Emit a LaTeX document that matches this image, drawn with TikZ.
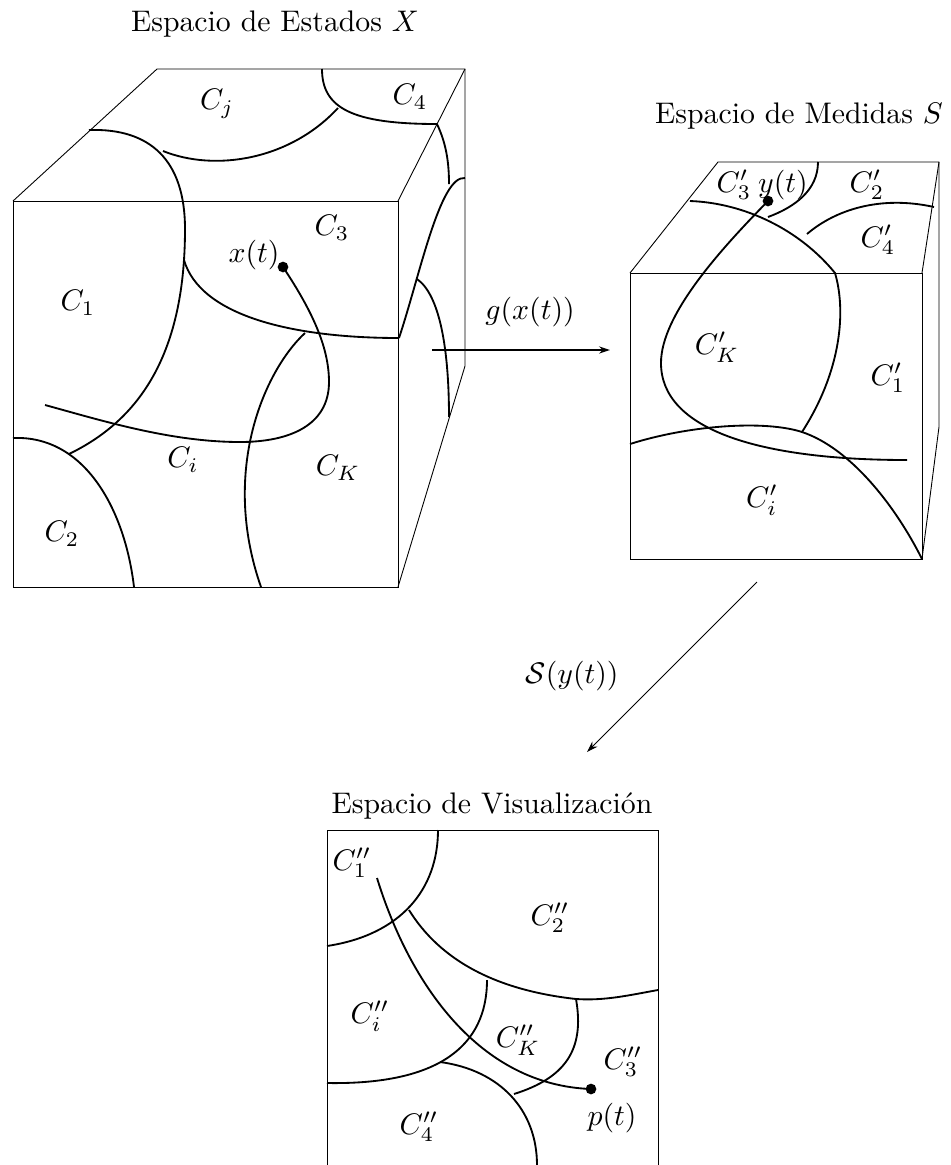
\documentclass[tikz,border=0pt]{standalone}
\usepackage{amsmath}
\usepackage{amssymb}
\usepackage{tikz}
\usetikzlibrary{arrows.meta}

\begin{document}
\begin{tikzpicture}[
        x=0.336pt, y=-0.336pt,
        lbl/.style={inner sep=0pt},
        edge/.style={line width=0.3pt},
        frontier/.style={line width=0.62pt},
        pointer/.style={circle, fill=black, inner sep=0pt, minimum size=3.6pt},
        arr/.style={-{Stealth[length=3.7pt, width=2.4pt]}}
    ]
    \useasboundingbox (0,0) rectangle (950,1165);

    % estados
    \node[lbl] (titleX) at (275,24) {Espacio de Estados $X$};
    \draw[edge] (13,201) rectangle (398,587);
    \draw[edge] (13,201) -- (157,69) -- (465,69) -- (465,366) -- (398,587);
    \draw[edge] (398,201) -- (465,69);

    \draw[frontier] (322,69) .. controls (322,108) and (352,124) .. (437,124);
    \draw[frontier] (89,130) .. controls (150,128) and (185,160) .. (185,229)
        .. controls (185,360) and (135,422) .. (69,454);
    \draw[frontier] (163,151) .. controls (215,172) and (290,160) .. (338,108);
    \draw[frontier] (437,124) .. controls (447,145) and (449,165) .. (449,184);
    \draw[frontier] (399,338) .. controls (420,275) and (440,175) .. (465,178);
    \draw[frontier] (417,279) .. controls (440,295) and (449,350) .. (449,417);
    \draw[frontier] (184,260) .. controls (200,315) and (290,338) .. (399,338);
    \draw[frontier] (305,333) .. controls (265,370) and (220,470) .. (261,587);
    \draw[frontier] (13,438) .. controls (85,435) and (125,510) .. (134,587);
    \draw[frontier] (283,267) .. controls (315,315) and (329,350) .. (329,382)
        .. controls (329,425) and (290,442) .. (240,442)
        .. controls (170,442) and (100,420) .. (45,405);
    \node[pointer] (dotx) at (283,267) {};

    \node[lbl] (cj) at (217,104) {$C_j$};
    \node[lbl] (c4) at (410,97) {$C_4$};
    \node[lbl] (c3) at (332,228) {$C_3$};
    \node[lbl] (xt) at (254,255) {$x(t)$};
    \node[lbl] (c1) at (78,303) {$C_1$};
    \node[lbl] (ci) at (183,460) {$C_i$};
    \node[lbl] (ck) at (338,468) {$C_K$};
    \node[lbl] (c2) at (62,534) {$C_2$};

    % medidas
    \node[lbl] (titleS) at (799,116) {Espacio de Medidas $S$};
    \draw[edge] (630,273) rectangle (922,559);
    \draw[edge] (630,273) -- (718,162) -- (939,162) -- (939,427) -- (922,559);
    \draw[edge] (922,273) -- (939,162);

    \draw[frontier] (690,201) .. controls (745,203) and (800,230) .. (835,273)
        .. controls (846,310) and (842,370) .. (802,432);
    \draw[frontier] (818,162) .. controls (818,190) and (795,207) .. (768,217);
    \draw[frontier] (807,234) .. controls (835,210) and (880,195) .. (934,207);
    \draw[frontier] (630,444) .. controls (690,425) and (765,420) .. (802,432)
        .. controls (850,448) and (895,505) .. (922,559);
    \draw[frontier] (768,201) .. controls (720,250) and (661,315) .. (661,363)
        .. controls (661,430) and (760,460) .. (907,460);
    \node[pointer] (doty) at (768,201) {};

    \node[lbl] (c3p) at (734,185) {$C'_3$};
    \node[lbl] (yt) at (783,185) {$y(t)$};
    \node[lbl] (c2p) at (867,185) {$C'_2$};
    \node[lbl] (c4p) at (878,240) {$C'_4$};
    \node[lbl] (ckp) at (717,347) {$C'_K$};
    \node[lbl] (c1p) at (888,378) {$C'_1$};
    \node[lbl] (cip) at (762,500) {$C'_i$};

    % visualizacion
    \node[lbl] (titleV) at (492,806) {Espacio de Visualizaci\'on};
    \draw[edge] (327,1165) -- (327,830) -- (658,830) -- (658,1165);

    \draw[frontier] (438,830) .. controls (438,890) and (400,935) .. (327,946);
    \draw[frontier] (409,910) .. controls (440,960) and (495,990) .. (576,999)
        .. controls (605,1001) and (630,995) .. (658,990);
    \draw[frontier] (487,980) .. controls (487,1045) and (440,1085) .. (327,1083);
    \draw[frontier] (440,1062) .. controls (500,1070) and (537,1110) .. (537,1165);
    \draw[frontier] (576,999) .. controls (585,1050) and (565,1078) .. (514,1094);
    \draw[frontier] (377,878) .. controls (410,985) and (480,1085) .. (591,1089);
    \node[pointer] (dotp) at (591,1089) {};

    \node[lbl] (c1v) at (352,863) {$C''_1$};
    \node[lbl] (c2v) at (550,918) {$C''_2$};
    \node[lbl] (civ) at (370,1016) {$C''_i$};
    \node[lbl] (ckv) at (518,1040) {$C''_K$};
    \node[lbl] (c3v) at (623,1062) {$C''_3$};
    \node[lbl] (pt) at (612,1118) {$p(t)$};
    \node[lbl] (c4v) at (419,1127) {$C''_4$};

    % mapas
    \coordinate (gfrom) at (432,350);
    \coordinate (gto) at (610,350);
    \coordinate (sfrom) at (757,582);
    \coordinate (sto) at (587,752);
    \draw[arr, line width=0.45pt] (gfrom) -- (gto);
    \draw[arr, line width=0.3pt] (sfrom) -- (sto);
    \node[lbl] (gmap) at (530,312) {$g(x(t))$};
    \node[lbl] (smap) at (572,676) {$\mathcal{S}(y(t))$};
\end{tikzpicture}
\end{document}
